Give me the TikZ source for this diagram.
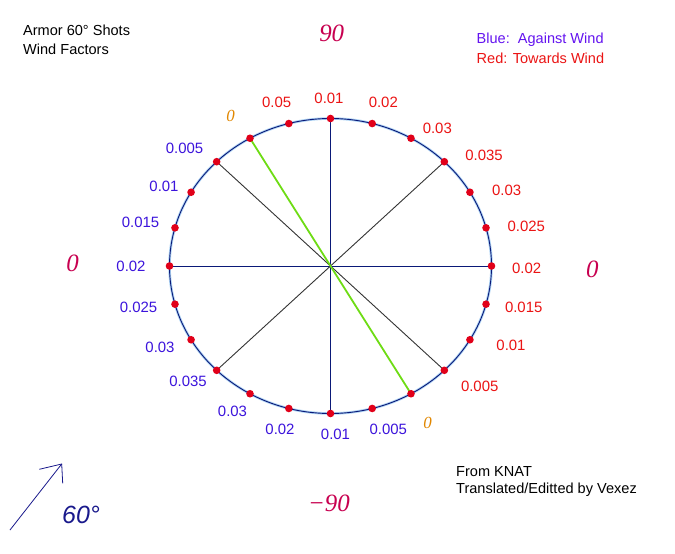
\documentclass[tikz,border=0pt]{standalone}
\usepackage{fontspec}
\setmainfont{Liberation Sans}
\newfontfamily\serifit{Liberation Serif}
\definecolor{lblred}{RGB}{235,20,20}
\definecolor{lblblue}{RGB}{60,20,220}
\definecolor{legblue}{RGB}{100,20,240}
\definecolor{mag}{RGB}{200,0,80}
\definecolor{navy}{RGB}{10,25,120}
\definecolor{halo}{RGB}{175,212,245}
\definecolor{dotred}{RGB}{225,0,25}
\definecolor{grn}{RGB}{110,220,20}
\definecolor{orng}{RGB}{225,135,0}
\definecolor{arrowblue}{RGB}{25,25,140}
\tikzset{
  lbl/.style={font=\fontsize{15}{17}\selectfont, inner sep=0pt},
  redlbl/.style={lbl, text=lblred},
  bluelbl/.style={lbl, text=lblblue},
  plain/.style={font=\fontsize{14.6}{16}\selectfont, inner sep=0pt, anchor=west, text=black},
  bigit/.style={font=\serifit\itshape\fontsize{25}{28}\selectfont, text=mag, inner sep=0pt},
  orangezero/.style={font=\serifit\itshape\fontsize{17}{20}\selectfont, text=orng, inner sep=0pt},
  axisline/.style={draw=navy, line width=0.9pt},
  diagline/.style={draw=black!80, line width=0.9pt},
  greenline/.style={draw=grn, line width=1.8pt},
  dot/.style={fill=dotred},
}
\begin{document}
\begin{tikzpicture}[x=1bp,y=-1bp]
\fill[white] (0,0) rectangle (675,554);
\useasboundingbox (0,0) rectangle (675,554);

\coordinate (c) at (330.5,266);
\foreach \i in {0,...,23} {
  \coordinate (p\i) at ({330.5+161*cos(15*\i)},{266-147.5*sin(15*\i)});
}

% spokes
\draw[axisline] (p6) -- (p18);
\draw[axisline] (p0) -- (p12);
\draw[diagline] (p3) -- (p15);
\draw[diagline] (p9) -- (p21);
\draw[greenline] (p8) -- (p20);

% ellipse
\draw[halo, line width=2.6pt] (c) ellipse [x radius=161, y radius=147.5];
\draw[navy, line width=0.9pt] (c) ellipse [x radius=161, y radius=147.5];

% dots
\foreach \i in {0,...,23} {
  \fill[dot] (p\i) circle [radius=3.8];
}

% red labels
\node[redlbl] (r1) at (276.7,102.7) {0.05};
\node[redlbl] (r2) at (329,98.3) {0.01};
\node[redlbl] (r3) at (383.3,102.7) {0.02};
\node[redlbl] (r4) at (437.3,128.3) {0.03};
\node[redlbl] (r5) at (484,155) {0.035};
\node[redlbl] (r6) at (506.7,190) {0.03};
\node[redlbl] (r7) at (526.3,226) {0.025};
\node[redlbl] (r8) at (526.7,268.5) {0.02};
\node[redlbl] (r9) at (523.7,307.3) {0.015};
\node[redlbl] (r10) at (511,345.7) {0.01};
\node[redlbl] (r11) at (479.7,386.7) {0.005};

% blue labels
\node[bluelbl] (b1) at (184.5,148.3) {0.005};
\node[bluelbl] (b2) at (164,186.7) {0.01};
\node[bluelbl] (b3) at (140.5,222.7) {0.015};
\node[bluelbl] (b4) at (131,266.5) {0.02};
\node[bluelbl] (b5) at (138.5,307.7) {0.025};
\node[bluelbl] (b6) at (160,347.7) {0.03};
\node[bluelbl] (b7) at (188,381.7) {0.035};
\node[bluelbl] (b8) at (232.5,411.7) {0.03};
\node[bluelbl] (b9) at (280,429.3) {0.02};
\node[bluelbl] (b10) at (335.5,434) {0.01};
\node[bluelbl] (b11) at (388.3,429.3) {0.005};

% orange zeros
\node[orangezero] (o1) at (230.5,115.5) {0};
\node[orangezero] (o2) at (427.7,422.7) {0};

% big magenta labels
\node[bigit] (n90) at (331.7,33) {90};
\node[bigit] (m90) at (329,503.3) {\char"2212 90};
\node[bigit] (zl) at (72.7,263.5) {0};
\node[bigit] (zr) at (592.3,269) {0};

% titles
\node[plain] (t1) at (23,30.7) {Armor 60° Shots};
\node[plain] (t2) at (23,49.3) {Wind Factors};
\node[plain, text=legblue] (l1) at (476.5,40) {Blue:\ \ Against Wind};
\node[plain, text=lblred] (l2) at (476.5,58.3) {Red: Towards Wind};
\node[plain] (f1) at (456,471.7) {From KNAT};
\node[plain] (f2) at (456,489.3) {Translated/Editted by Vexez};

% wind arrow
\coordinate (a0) at (10,530);
\coordinate (a1) at (61.7,464);
\coordinate (a2) at (39.3,469.3);
\coordinate (a3) at (62.7,483.3);
\draw[arrowblue, line width=0.8pt] (a0) -- (a1);
\draw[arrowblue, line width=0.8pt] (a2) -- (a1) -- (a3);
\node[font=\itshape\fontsize{25}{28}\selectfont, text=arrowblue, inner sep=0pt] (w60) at (81,515) {60°};
\end{tikzpicture}
\end{document}
